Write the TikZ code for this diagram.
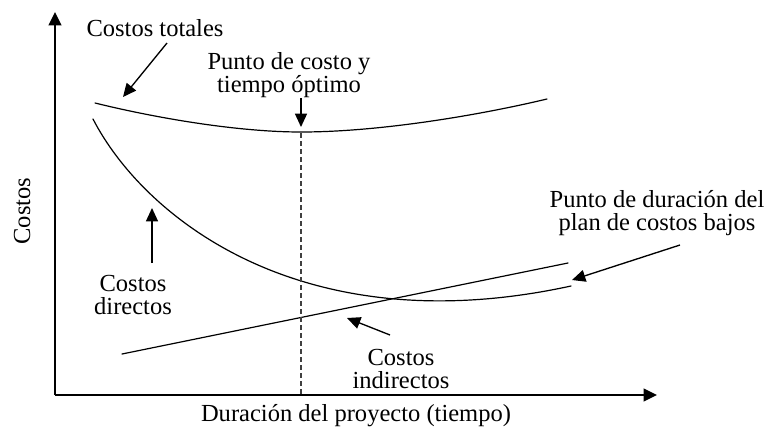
\documentclass[tikz,border=0pt]{standalone}
\usepackage{fontspec}
\setmainfont{Liberation Serif}
\usetikzlibrary{arrows.meta}

\tikzset{
  axis/.style={line width=1.3pt, -{Triangle[length=10pt,width=9.5pt]}},
  curve/.style={line width=0.9pt, line cap=round},
  pointer/.style={line width=1pt, -{Triangle[length=10pt,width=9pt]}},
  label/.style={align=center, inner sep=0pt, font=\fontsize{18.4pt}{17.5pt}\selectfont},
}

\begin{document}
\begin{tikzpicture}[x=0.75pt,y=0.75pt,yscale=-1,xscale=1]
\useasboundingbox (0,0) rectangle (767,429);

% Axes
\coordinate (origin) at (55,395);
\coordinate (ytip) at (55,12);
\coordinate (xtip) at (657,395);
\draw [axis] (origin) -- (ytip);
\draw [axis] (origin) -- (xtip);

%Curve: costos totales
\draw [curve] (95,103) .. controls (160,119) and (240,132) .. (301,132)
  .. controls (380,132) and (480,115) .. (547,99);
%Curve: costos directos
\draw [curve] (93,119) .. controls (143,216) and (300,345) .. (571,286);
%Straight Lines: costos indirectos
\coordinate (indA) at (122,354);
\coordinate (indB) at (568,263);
\draw [curve] (indA) -- (indB);

%Dashed line at the optimum
\coordinate (optTop) at (301,133);
\coordinate (optBot) at (301,395);
\draw [line width=1.4pt, black!75, dash pattern=on 4pt off 2pt] (optTop) -- (optBot);

% Text Node
\node [label, rotate=90] (ylabel) at (22,211) {Costos};
% Text Node
\node [label] (xlabel) at (356,416) {Duración del proyecto (tiempo)};
% Text Node
\node [label] (totales) at (155,28) {Costos totales};
% Text Node
\node [label] (optimo) at (289,75) {Punto de costo y\\tiempo óptimo};
% Text Node
\node [label] (bajos) at (657,213) {Punto de duración del\\plan de costos bajos};
% Text Node
\node [label] (directos) at (133,295) {Costos\\directos};
% Text Node
\node [label] (indirectos) at (401,369) {Costos\\indirectos};

%Pointers
\coordinate (totS) at (167,43);
\coordinate (totE) at (123,97);
\draw [pointer] (totS) -- (totE);
\coordinate (optS) at (301,98);
\coordinate (optE) at (301,127);
\draw [pointer] (optS) -- (optE);
\coordinate (dirS) at (152,263);
\coordinate (dirE) at (152,208);
\draw [pointer] (dirS) -- (dirE);
\coordinate (indS) at (390,335);
\coordinate (indE) at (347,318);
\draw [pointer] (indS) -- (indE);
\coordinate (bajS) at (680,245);
\coordinate (bajE) at (572,280);
\draw [pointer] (bajS) -- (bajE);
\end{tikzpicture}
\end{document}
